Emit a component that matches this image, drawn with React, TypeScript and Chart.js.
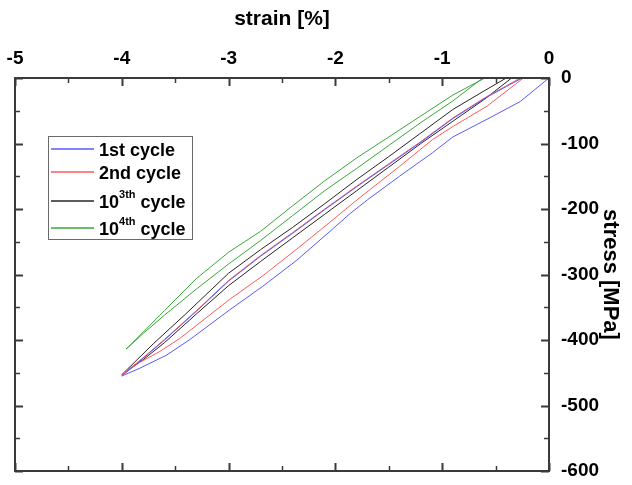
import React, { useEffect, useRef } from "react";
import { Chart, registerables } from "chart.js";

Chart.register(...registerables);

// ---- data ----
const cycleNames = ["1st cycle", "2nd cycle", "10^3th cycle", "10^4th cycle"];
const legendMain = ["1st cycle", "2nd cycle", "10", "10"];
const legendSup = ["", "", "3th", "4th"];
const legendTail = ["", "", " cycle", " cycle"];
const cycleColors = ["#5a5aff", "#ff5a5a", "#262626", "#3aa63a"];

const c1Strain = [0, -0.27, -0.58, -0.9, -1.09, -1.4, -1.7, -1.87, -2.05, -2.36, -2.68, -2.99, -3.36, -3.58, -3.83, -4.0,
  -3.8, -3.6, -3.3, -3.0, -2.7, -2.4, -2.1, -1.8, -1.5, -1.2, -0.9, -0.6, -0.4, -0.25];
const c1Stress = [0, -36, -63, -90, -114, -150, -186, -208, -234, -278, -318, -354, -399, -423, -443, -455,
  -428, -400, -356, -310, -272, -237, -201, -166, -132, -98, -62, -31, -13, 0];

const c2Strain = [-0.24, -0.58, -0.9, -1.09, -1.4, -1.79, -2.05, -2.36, -2.68, -2.99, -3.46, -3.65, -3.83, -4.0,
  -3.8, -3.6, -3.3, -3.0, -2.7, -2.4, -2.1, -1.8, -1.5, -1.2, -0.9, -0.6, -0.4, -0.27];
const c2Stress = [0, -43, -74, -94, -135, -185, -220, -261, -302, -338, -398, -418, -434, -453,
  -427, -399, -355, -309, -271, -236, -200, -165, -131, -97, -61, -30, -12, 0];

const c3Strain = [-0.35, -0.6, -0.9, -1.2, -1.5, -1.8, -2.1, -2.4, -2.7, -3.0, -3.3, -3.6, -3.8, -4.0,
  -3.7, -3.4, -3.0, -2.7, -2.4, -2.1, -1.8, -1.5, -1.2, -0.9, -0.6, -0.4];
const c3Stress = [0, -32, -66, -100, -136, -172, -208, -244, -280, -317, -360, -404, -430, -453,
  -405, -360, -298, -262, -228, -192, -155, -120, -84, -48, -19, 0];

const c4Strain = [-0.62, -0.9, -1.2, -1.5, -1.8, -2.1, -2.4, -2.7, -3.0, -3.3, -3.6, -3.8, -3.96,
  -3.8, -3.6, -3.3, -3.0, -2.7, -2.4, -2.1, -1.8, -1.5, -1.2, -0.9, -0.6];
const c4Stress = [0, -35, -68, -103, -138, -172, -210, -248, -284, -322, -362, -390, -414,
  -388, -355, -306, -266, -234, -195, -157, -122, -90, -58, -26, 0];

const xMajorTicks = [-5, -4, -3, -2, -1, 0];
const xMinorTicks = [-4.5, -3.5, -2.5, -1.5, -0.5];
const yMajorTicks = [0, -100, -200, -300, -400, -500, -600];
const yMinorTicks = [-50, -150, -250, -350, -450, -550];

const FONT = "'Liberation Sans', Arial, sans-serif";

const toPoints = (xs: number[], ys: number[]) => xs.map((x, i) => ({ x, y: ys[i] }));

const framePlugin = {
  id: "frameTicks",
  afterDatasetsDraw(chart: any) {
    const { ctx, chartArea: a, scales } = chart;
    const xs = scales.x;
    const ys = scales.y;
    ctx.save();
    ctx.strokeStyle = "#3a3a3a";
    const drawX = (vals: number[], len: number, w: number) => {
      ctx.lineWidth = w;
      vals.forEach((v) => {
        const p = Math.round(xs.getPixelForValue(v)) + 0.5;
        ctx.beginPath();
        ctx.moveTo(p, a.top);
        ctx.lineTo(p, a.top + len);
        ctx.moveTo(p, a.bottom);
        ctx.lineTo(p, a.bottom - len);
        ctx.stroke();
      });
    };
    const drawY = (vals: number[], len: number, w: number) => {
      ctx.lineWidth = w;
      vals.forEach((v) => {
        const p = Math.round(ys.getPixelForValue(v)) + 0.5;
        ctx.beginPath();
        ctx.moveTo(a.left, p);
        ctx.lineTo(a.left + len, p);
        ctx.moveTo(a.right, p);
        ctx.lineTo(a.right - len, p);
        ctx.stroke();
      });
    };
    drawX(xMajorTicks, 8, 2);
    drawX(xMinorTicks, 5, 1.5);
    drawY(yMajorTicks, 8, 2);
    drawY(yMinorTicks, 5, 1.5);
    ctx.lineWidth = 2;
    ctx.strokeRect(a.left, a.top, a.right - a.left, a.bottom - a.top);
    ctx.restore();
  },
};

const legendPlugin = {
  id: "cycleLegend",
  afterDraw(chart: any) {
    const { ctx, chartArea: a } = chart;
    const bx = a.left + 33;
    const by = a.top + 58;
    const bw = 144;
    const bh = 103;
    ctx.save();
    ctx.fillStyle = "#ffffff";
    ctx.fillRect(bx, by, bw, bh);
    ctx.strokeStyle = "#6a6a6a";
    ctx.lineWidth = 1;
    ctx.strokeRect(bx + 0.5, by + 0.5, bw, bh);
    const rowOffsets = [13, 36, 65, 92];
    rowOffsets.forEach((off, i) => {
      const ry = by + off;
      ctx.strokeStyle = cycleColors[i];
      ctx.lineWidth = 1.5;
      ctx.beginPath();
      ctx.moveTo(bx + 3, ry);
      ctx.lineTo(bx + 46, ry);
      ctx.stroke();
      ctx.fillStyle = "#000";
      ctx.textBaseline = "alphabetic";
      ctx.textAlign = "left";
      ctx.font = `bold 18px ${FONT}`;
      let tx = bx + 51;
      ctx.fillText(legendMain[i], tx, ry + 7);
      tx += ctx.measureText(legendMain[i]).width;
      if (legendSup[i]) {
        ctx.font = `bold 11px ${FONT}`;
        ctx.fillText(legendSup[i], tx, ry - 3);
        tx += ctx.measureText(legendSup[i]).width;
        ctx.font = `bold 18px ${FONT}`;
        ctx.fillText(legendTail[i], tx, ry + 7);
      }
    });
    ctx.restore();
  },
};

export default function App() {
  const ref = useRef<HTMLCanvasElement | null>(null);
  useEffect(() => {
    if (!ref.current) return;
    const series = [
      toPoints(c1Strain, c1Stress),
      toPoints(c2Strain, c2Stress),
      toPoints(c3Strain, c3Stress),
      toPoints(c4Strain, c4Stress),
    ];
    const chart = new Chart(ref.current, {
      type: "scatter",
      data: {
        datasets: series.map((d, i) => ({
          label: cycleNames[i],
          data: d,
          showLine: true,
          borderColor: cycleColors[i],
          backgroundColor: cycleColors[i],
          borderWidth: 1,
          pointRadius: 0,
          tension: 0,
        })),
      },
      options: {
        animation: false,
        responsive: false,
        devicePixelRatio: 1,
        layout: { padding: { left: 15, right: 0, top: 0, bottom: 14 } },
        plugins: { legend: { display: false }, tooltip: { enabled: false } },
        scales: {
          x: {
            type: "linear",
            position: "top",
            min: -5,
            max: 0,
            grid: { display: false, drawTicks: false },
            border: { display: false },
            ticks: {
              stepSize: 1,
              color: "#000",
              maxRotation: 0,
              padding: 8,
              font: { family: FONT, size: 19, weight: "bold" },
            },
            title: {
              display: true,
              text: "strain [%]",
              color: "#000",
              font: { family: FONT, size: 21, weight: "bold" },
              padding: { top: 7, bottom: 0 },
            },
            afterFit(s: any) {
              s.height = 78;
              s.paddingLeft = 0;
              s.paddingRight = 0;
            },
          },
          y: {
            type: "linear",
            position: "right",
            min: -600,
            max: 0,
            grid: { display: false, drawTicks: false },
            border: { display: false },
            ticks: {
              stepSize: 100,
              color: "#000",
              padding: 12,
              font: { family: FONT, size: 19, weight: "bold" },
            },
            title: {
              display: true,
              text: "stress [MPa]",
              color: "#000",
              font: { family: FONT, size: 22, weight: "bold" },
              padding: { top: 9, bottom: 0 },
            },
            afterFit(s: any) {
              s.width = 83;
              s.paddingTop = 0;
              s.paddingBottom = 0;
            },
          },
        },
      },
      plugins: [framePlugin, legendPlugin],
    } as any);
    return () => chart.destroy();
  }, []);
  return (
    <div style={{ position: "absolute", left: 0, top: 0, width: 632, height: 485, background: "#fff" }}>
      <canvas ref={ref} width={632} height={485} />
    </div>
  );
}
